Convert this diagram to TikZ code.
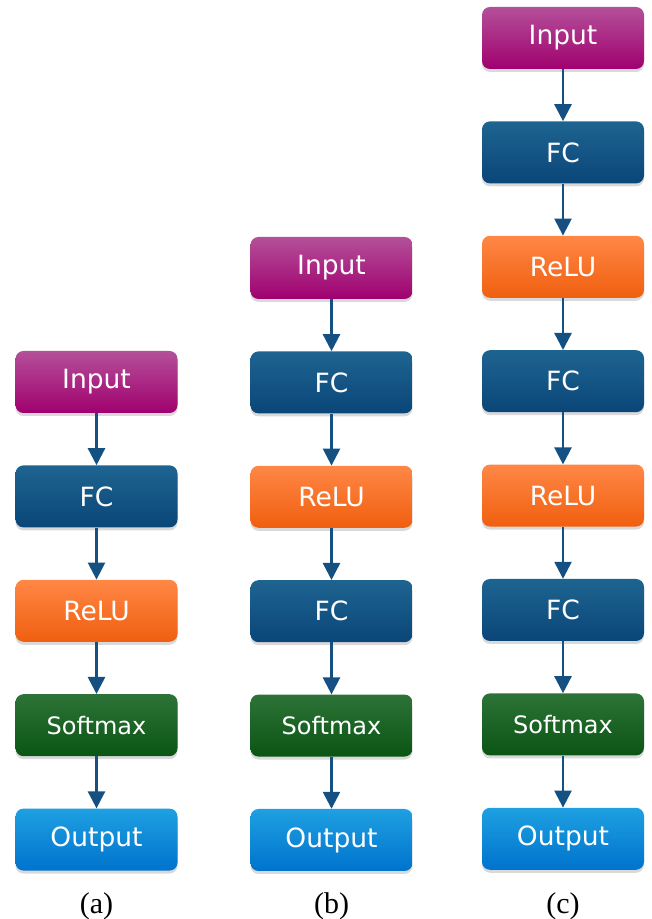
\documentclass[tikz,border=0pt]{standalone}
\usepackage{fontspec}
\setmainfont{Liberation Serif}
\newfontfamily\boxfont{DejaVu Sans}
\usetikzlibrary{positioning,shadows,arrows.meta}

\definecolor{inputtop}{HTML}{B4509A}
\definecolor{inputbot}{HTML}{A0006E}
\definecolor{fctop}{HTML}{1E6491}
\definecolor{fcbot}{HTML}{0A4678}
\definecolor{relutop}{HTML}{FF8746}
\definecolor{relubot}{HTML}{F05F0F}
\definecolor{smtop}{HTML}{2D7337}
\definecolor{smbot}{HTML}{0A5514}
\definecolor{outtop}{HTML}{1EA0E1}
\definecolor{outbot}{HTML}{0073CD}
\definecolor{flowc}{HTML}{145082}

\tikzset{
  layer/.style={rectangle, rounded corners=8pt, minimum width=162pt,
    minimum height=62pt, inner sep=0pt, text=white,
    font=\boxfont\fontsize{26.5}{30}\selectfont,
    drop shadow={shadow xshift=0pt, shadow yshift=-3pt, opacity=.3}},
  input/.style={layer, top color=inputtop, bottom color=inputbot},
  fc/.style={layer, top color=fctop, bottom color=fcbot},
  relu/.style={layer, top color=relutop, bottom color=relubot},
  softmax/.style={layer, top color=smtop, bottom color=smbot,
    font=\boxfont\fontsize{24}{28}\selectfont},
  output/.style={layer, top color=outtop, bottom color=outbot},
  flow/.style={draw=flowc, line width=2.5pt, -{Triangle[width=17pt,length=17pt]}},
  caption/.style={font=\fontsize{30}{34}\selectfont}
}

\begin{document}
\begin{tikzpicture}[node distance=52pt]
\useasboundingbox (0,0) rectangle (652pt,919pt);
% (a)
\node [input] (a1) at (96.5pt,537pt) {Input};
\node [fc, below=of a1] (a2) {FC};
\node [relu, below=of a2] (a3) {ReLU};
\node [softmax, below=of a3] (a4) {Softmax};
\node [output, below=of a4] (a5) {Output};
\node [caption] (la) at (96.5pt,13pt) {(a)};
% (b)
\node [input] (b1) at (331.5pt,651pt) {Input};
\node [fc, below=of b1] (b2) {FC};
\node [relu, below=of b2] (b3) {ReLU};
\node [fc, below=of b3] (b4) {FC};
\node [softmax, below=of b4] (b5) {Softmax};
\node [output, below=of b5] (b6) {Output};
\node [caption] (lb) at (331.5pt,13pt) {(b)};
% (c)
\node [input] (c1) at (563pt,881pt) {Input};
\node [fc, below=of c1] (c2) {FC};
\node [relu, below=of c2] (c3) {ReLU};
\node [fc, below=of c3] (c4) {FC};
\node [relu, below=of c4] (c5) {ReLU};
\node [fc, below=of c5] (c6) {FC};
\node [softmax, below=of c6] (c7) {Softmax};
\node [output, below=of c7] (c8) {Output};
\node [caption] (lc) at (563pt,13pt) {(c)};

\path (a1) edge[flow] (a2)
(a2) edge[flow] (a3)
(a3) edge[flow] (a4)
(a4) edge[flow] (a5)
(b1) edge[flow] (b2)
(b2) edge[flow] (b3)
(b3) edge[flow] (b4)
(b4) edge[flow] (b5)
(b5) edge[flow] (b6)
(c1) edge[flow] (c2)
(c2) edge[flow] (c3)
(c3) edge[flow] (c4)
(c4) edge[flow] (c5)
(c5) edge[flow] (c6)
(c6) edge[flow] (c7)
(c7) edge[flow] (c8);
\end{tikzpicture}
\end{document}
